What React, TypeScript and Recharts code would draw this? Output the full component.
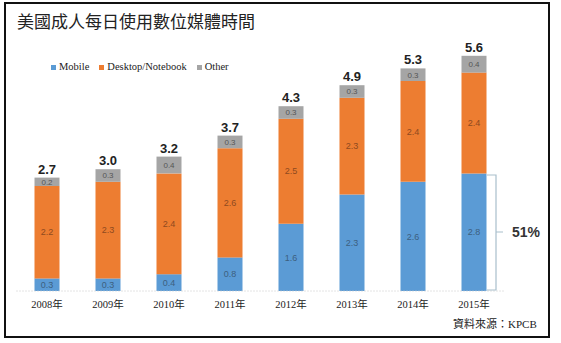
import React from 'react';
import { BarChart, Bar, XAxis, YAxis, LabelList } from 'recharts';

const years = ['2008年', '2009年', '2010年', '2011年', '2012年', '2013年', '2014年', '2015年'];
const mobile = [0.3, 0.3, 0.4, 0.8, 1.6, 2.3, 2.6, 2.8];
const desktop = [2.2, 2.3, 2.4, 2.6, 2.5, 2.3, 2.4, 2.4];
const other = [0.2, 0.3, 0.4, 0.3, 0.3, 0.3, 0.3, 0.4];
const totals = [2.7, 3.0, 3.2, 3.7, 4.3, 4.9, 5.3, 5.6];

const seriesNames = ['Mobile', 'Desktop/Notebook', 'Other'];
const colors = ['#5b9bd5', '#ed7d31', '#a5a5a5'];
const labelColors = ['#3d5f80', '#8f4a1f', '#555555'];

const data = years.map((y, i) => ({
  year: y,
  mobile: mobile[i],
  desktop: desktop[i],
  other: other[i],
  total: totals[i],
}));

const fmt = (v: any) => Number(v).toFixed(1);

export default function App() {
  return (
    <div style={{ position: 'absolute', left: 0, top: 0, width: 561, height: 343, background: '#fff' }}>
      <div style={{ position: 'absolute', left: 4, top: 2, width: 546, height: 336, border: '2px solid #111', boxSizing: 'border-box' }} />
      <div style={{ position: 'absolute', left: 17, top: 9, fontFamily: '"Noto Sans CJK TC", sans-serif', fontSize: 17, color: '#222', lineHeight: '24px' }}>
        美國成人每日使用數位媒體時間
      </div>
      <div style={{ position: 'absolute', left: 51, top: 60, display: 'flex', alignItems: 'center', fontFamily: '"Liberation Serif", "Times New Roman", serif', fontSize: 10.5, color: '#222', lineHeight: '14px' }}>
        {seriesNames.map((n, i) => (
          <span key={n} style={{ display: 'flex', alignItems: 'center', marginRight: 10 }}>
            <span style={{ width: 5, height: 5, background: colors[i], display: 'inline-block', marginRight: 3 }} />
            <span>{n}</span>
          </span>
        ))}
      </div>
      <div style={{ position: 'absolute', left: 0, top: 0 }}>
        <BarChart width={561} height={343} data={data} margin={{ top: 39, right: 56.5, bottom: 22, left: 16.5 }} barSize={25}>
          <XAxis
            dataKey="year"
            height={30}
            tickLine={false}
            tickMargin={4}
            axisLine={{ stroke: '#c8c8c8', strokeDasharray: '1 2' }}
            tick={{ fill: '#222', fontSize: 10.5, fontFamily: '"Liberation Serif", "Noto Sans CJK TC", serif' }}
            interval={0}
          />
          <YAxis hide domain={[0, 6]} />
          <Bar dataKey="mobile" stackId="a" fill={colors[0]} isAnimationActive={false}>
            <LabelList dataKey="mobile" position="center" formatter={fmt} fill={labelColors[0]} fontSize={9} fontFamily="Liberation Sans, sans-serif" />
          </Bar>
          <Bar dataKey="desktop" stackId="a" fill={colors[1]} isAnimationActive={false}>
            <LabelList dataKey="desktop" position="center" formatter={fmt} fill={labelColors[1]} fontSize={9} fontFamily="Liberation Sans, sans-serif" />
          </Bar>
          <Bar dataKey="other" stackId="a" fill={colors[2]} isAnimationActive={false}>
            <LabelList dataKey="other" position="center" formatter={fmt} fill={labelColors[2]} fontSize={8} fontFamily="Liberation Sans, sans-serif" />
            <LabelList dataKey="total" position="top" offset={4} formatter={fmt} fill="#222" fontSize={13} fontWeight="bold" fontFamily="Liberation Sans, sans-serif" />
          </Bar>
        </BarChart>
      </div>
      <svg style={{ position: 'absolute', left: 0, top: 0 }} width={561} height={343}>
        <path d="M487,175 L496,175 L496,290 L487,290 M496,232 L503,232" fill="none" stroke="#a9bfcc" strokeWidth={1.2} />
        <text x={512} y={237} fontFamily="Liberation Sans, sans-serif" fontSize={14} fontWeight="bold" fill="#333">51%</text>
      </svg>
      <div style={{ position: 'absolute', left: 453, top: 315, fontFamily: '"Liberation Serif", "Noto Sans CJK TC", serif', fontSize: 11, color: '#222' }}>
        資料來源：KPCB
      </div>
    </div>
  );
}
